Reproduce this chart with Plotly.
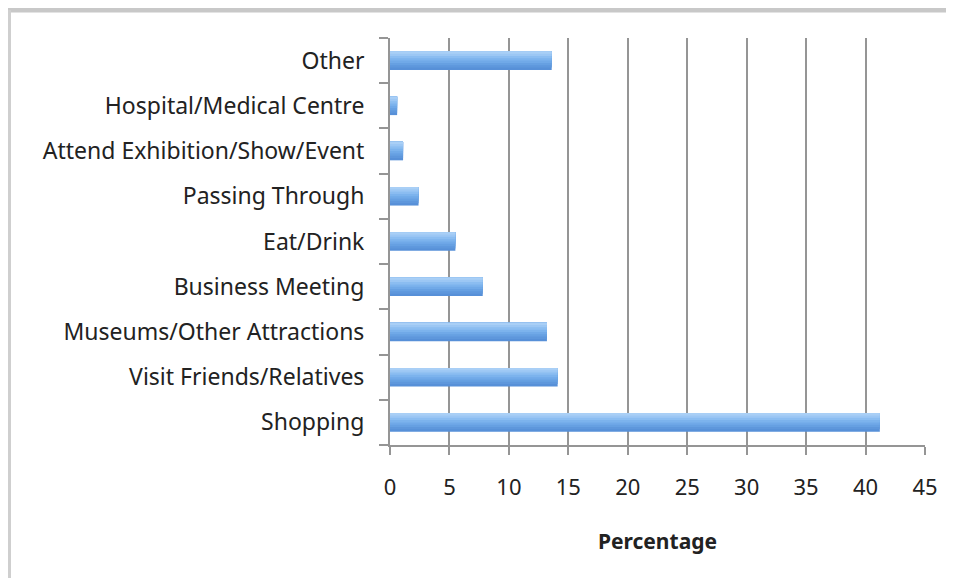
import plotly.graph_objects as go

categories = [
    "Shopping",
    "Visit Friends/Relatives",
    "Museums/Other Attractions",
    "Business Meeting",
    "Eat/Drink",
    "Passing Through",
    "Attend Exhibition/Show/Event",
    "Hospital/Medical Centre",
    "Other",
]
percentages = [41.2, 14.1, 13.2, 7.8, 5.5, 2.4, 1.1, 0.6, 13.6]
x_ticks = [0, 5, 10, 15, 20, 25, 30, 35, 40, 45]

# vertical gradient (bottom dark -> top light) built from overlapping bands
band_colors = ["#5790d8", "#5e97dc", "#66a0e2", "#70a9e8", "#7cb3ed", "#8bbdf1", "#9cc7f4", "#a9cff6"]
bar_w = 0.41
n = len(band_colors)

fig = go.Figure()
for i, c in enumerate(band_colors):
    start = -bar_w / 2 + i * bar_w / n
    fig.add_trace(go.Bar(
        y=categories, x=percentages, orientation="h",
        marker=dict(color=c, line=dict(width=0)),
        width=bar_w / 2 - start, offset=start,
        showlegend=False, hoverinfo="x+y",
    ))

fig.update_layout(
    width=946, height=570,
    margin=dict(l=382, r=29, t=30, b=133),
    barmode="overlay",
    paper_bgcolor="white", plot_bgcolor="white",
    font=dict(family="Noto Sans", color="#222222"),
    xaxis=dict(
        range=[0, 45], tickvals=x_ticks, ticktext=[str(v) for v in x_ticks],
        showgrid=True, gridcolor="#959595", gridwidth=2,
        showline=True, linecolor="#959595", linewidth=2,
        ticks="outside", ticklen=8, tickcolor="#959595", tickwidth=2,
        tickfont=dict(size=22), zeroline=False,
        ticklabelstandoff=14,
        title=dict(text="<b>Percentage</b>", font=dict(size=21), standoff=34),
        fixedrange=True,
    ),
    yaxis=dict(
        type="category", categoryorder="array", categoryarray=categories,
        showline=True, linecolor="#959595", linewidth=2,
        ticks="outside", ticklen=9, tickcolor="#959595", tickwidth=2,
        tickson="boundaries", tickfont=dict(size=23), showgrid=False,
        ticklabelstandoff=19, fixedrange=True,
    ),
    shapes=[
        dict(type="line", xref="paper", yref="paper", x0=-0.72, x1=1.06, y0=1.069, y1=1.069,
             line=dict(color="#c8c8c8", width=5)),
        dict(type="line", xref="paper", yref="paper", x0=-0.7112, x1=-0.7112, y0=-0.33, y1=1.069,
             line=dict(color="#cfcfcf", width=3)),
    ],
)

fig.write_html("out.html")
